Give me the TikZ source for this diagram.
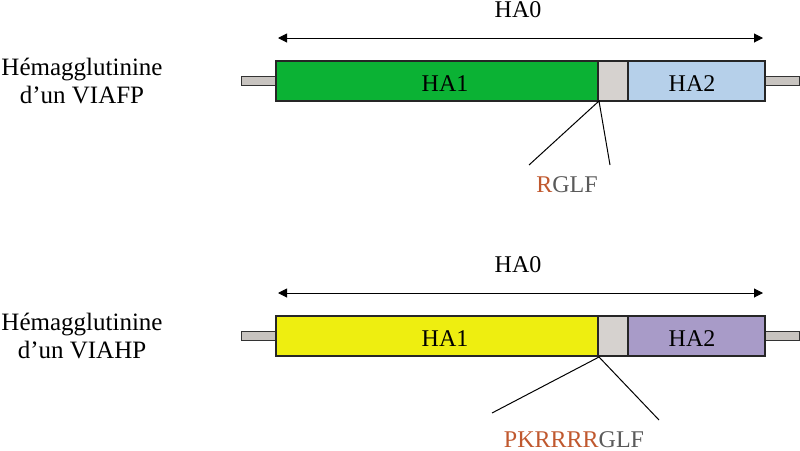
\documentclass[tikz,border=0pt]{standalone}
\usepackage{fontspec}
\setmainfont{Liberation Serif}
\usetikzlibrary{arrows.meta}
\definecolor{hgreen}{RGB}{11,178,52}
\definecolor{hblue}{RGB}{182,208,234}
\definecolor{hgrey}{RGB}{214,210,207}
\definecolor{hyellow}{RGB}{238,238,16}
\definecolor{hpurple}{RGB}{168,155,200}
\definecolor{stubgrey}{RGB}{200,196,192}
\definecolor{rred}{RGB}{192,88,46}
\definecolor{tgrey}{RGB}{90,90,90}
\tikzset{
  seg/.style={draw=black!85, line width=1.2pt},
  stub/.style={draw=black!80, fill=stubgrey, line width=1pt},
  lbl/.style={font=\fontsize{24}{28}\selectfont, inner sep=0pt, anchor=base},
  namelbl/.style={font=\fontsize{25}{28}\selectfont, inner sep=0pt, anchor=base},
  arr/.style={{Triangle[length=9pt,width=9pt]}-{Triangle[length=9pt,width=9pt]}, line width=1pt},
  cut/.style={line width=1pt}
}
\begin{document}
\begin{tikzpicture}[x=1pt,y=-1pt]
\useasboundingbox (0,0) rectangle (800,450);
% ---------- top row ----------
\node[lbl] (t0) at (518,17) {HA0};
\coordinate (ta1) at (278,38);
\coordinate (ta2) at (763,38);
\draw[arr] (ta1) -- (ta2);
\draw[stub] (241,76) rectangle (276,85);
\draw[stub] (765,76) rectangle (799,85);
\draw[seg, fill=hgreen] (276,61) rectangle (598,101);
\draw[seg, fill=hgrey] (598,61) rectangle (628,101);
\draw[seg, fill=hblue] (628,61) rectangle (765,101);
\node[lbl] (th1) at (445,91) {HA1};
\node[lbl] (th2) at (692,91) {HA2};
\coordinate (tc) at (599,101);
\coordinate (tl) at (529,165);
\coordinate (tr) at (610,165);
\draw[cut] (tl) -- (tc) -- (tr);
\node[lbl] (tseq) at (567,192) {\textcolor{rred}{R}\textcolor{tgrey}{GLF}};
\node[namelbl] (tname1) at (82,75) {Hémagglutinine};
\node[namelbl] (tname2) at (82,103) {d’un VIAFP};
% ---------- bottom row ----------
\node[lbl] (b0) at (518,272) {HA0};
\coordinate (ba1) at (278,293);
\coordinate (ba2) at (763,293);
\draw[arr] (ba1) -- (ba2);
\draw[stub] (241,331) rectangle (276,340);
\draw[stub] (765,331) rectangle (799,340);
\draw[seg, fill=hyellow] (276,316) rectangle (598,356);
\draw[seg, fill=hgrey] (598,316) rectangle (628,356);
\draw[seg, fill=hpurple] (628,316) rectangle (765,356);
\node[lbl] (bh1) at (445,346) {HA1};
\node[lbl] (bh2) at (692,346) {HA2};
\coordinate (bc) at (599,357);
\coordinate (bl) at (492,413);
\coordinate (br) at (659,420);
\draw[cut] (bl) -- (bc) -- (br);
\node[lbl] (bseq) at (574,447) {\textcolor{rred}{PKRRRR}\textcolor{tgrey}{GLF}};
\node[namelbl] (bname1) at (82,330) {Hémagglutinine};
\node[namelbl] (bname2) at (82,358) {d’un VIAHP};
\end{tikzpicture}
\end{document}
